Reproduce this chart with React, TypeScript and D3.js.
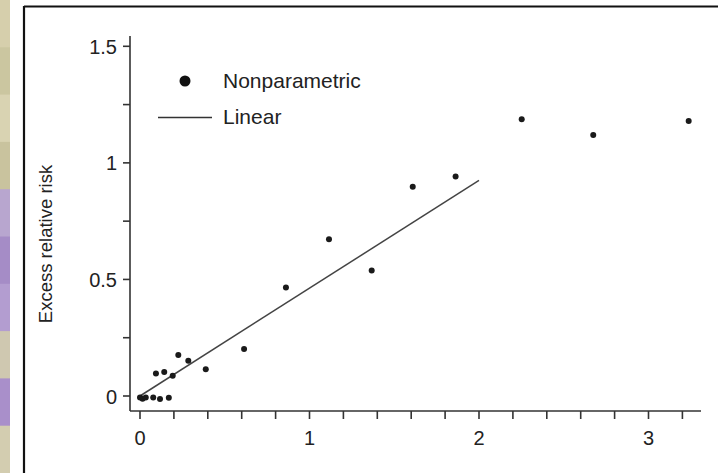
import React from "react";
import * as d3 from "d3";

// Nonparametric estimates (dose in Sv, excess relative risk)
const npDose = [0.0, 0.015, 0.034, 0.078, 0.118, 0.17, 0.094, 0.143, 0.193, 0.226, 0.285, 0.388, 0.614, 0.861, 1.115, 1.367, 1.609, 1.862, 2.252, 2.674, 3.237];
const npErr = [-0.006, -0.012, -0.006, -0.006, -0.013, -0.007, 0.097, 0.103, 0.087, 0.176, 0.151, 0.115, 0.202, 0.465, 0.672, 0.538, 0.898, 0.941, 1.187, 1.12, 1.18];

// Linear fit
const linDose = [0, 2];
const linErr = [0, 0.925];

const xTickValues = [0, 0.2, 0.4, 0.6, 0.8, 1, 1.2, 1.4, 1.6, 1.8, 2, 2.2, 2.4, 2.6, 2.8, 3, 3.2];
const xTickLabels = ["0", "1", "2", "3"];
const yTickValues = [0, 0.25, 0.5, 0.75, 1, 1.25, 1.5];
const yTickLabels = ["0", "0.5", "1", "1.5"];

const yTitle = "Excess relative risk";
const legendLabels = ["Nonparametric", "Linear"];

// decorative textured strip on the left edge
const stripColors = ["#d6cfac", "#cbc6a0", "#d9d3b2", "#c9c39e", "#b8a6cf", "#a58cc6", "#b39dd0", "#cfc8b0", "#a98fca", "#d3cdb0"];

const FONT = "'Liberation Sans', Arial, Helvetica, sans-serif";
const INK = "#222";

export default function App() {
  const W = 718, H = 473;
  const x = d3.scaleLinear().domain([0, 3]).range([140, 648.5]);
  const y = d3.scaleLinear().domain([0, 1.5]).range([396, 46.3]);

  const axisY = 411;
  const axisX = 130;

  const line = d3
    .line<number>()
    .x((_, i) => x(linDose[i]))
    .y((_, i) => y(linErr[i]));

  const stripH = H / stripColors.length;

  return (
    <svg
      width={W}
      height={H}
      style={{ position: "absolute", left: 0, top: 0, background: "#fff" }}
      fontFamily={FONT}
    >
      <rect x={0} y={0} width={W} height={H} fill="#fff" />
      {stripColors.map((c, i) => (
        <rect key={i} x={0} y={i * stripH} width={10} height={stripH + 1} fill={c} />
      ))}
      {/* frame */}
      <line x1={24} y1={6.5} x2={W} y2={6.5} stroke="#111" strokeWidth={2.2} />
      <line x1={24} y1={6} x2={24} y2={H} stroke="#111" strokeWidth={2.2} />

      {/* axes */}
      <line x1={axisX} y1={36} x2={axisX} y2={axisY} stroke="#333" strokeWidth={1.6} />
      <line x1={axisX} y1={axisY} x2={701} y2={axisY} stroke="#333" strokeWidth={1.6} />

      {xTickValues.map((v, i) => (
        <line key={"xt" + i} x1={x(v)} x2={x(v)} y1={axisY} y2={axisY + 8} stroke="#333" strokeWidth={1.6} />
      ))}
      {xTickLabels.map((t) => (
        <text key={"xl" + t} x={x(+t)} y={445} textAnchor="middle" fontSize={20} fill={INK}>
          {t}
        </text>
      ))}

      {yTickValues.map((v, i) => (
        <line key={"yt" + i} x1={axisX - 7} x2={axisX} y1={y(v)} y2={y(v)} stroke="#333" strokeWidth={1.6} />
      ))}
      {yTickLabels.map((t) => (
        <text key={"yl" + t} x={117} y={y(+t) + 7.5} textAnchor="end" fontSize={20} fill={INK}>
          {t}
        </text>
      ))}

      <text
        transform={`translate(52, 244) rotate(-90)`}
        textAnchor="middle"
        fontSize={18.5}
        fill={INK}
      >
        {yTitle}
      </text>

      {/* linear fit */}
      <path d={line(linDose) || ""} fill="none" stroke="#444" strokeWidth={1.5} />

      {/* nonparametric points */}
      {npDose.map((d, i) => (
        <circle key={"p" + i} cx={x(d)} cy={y(npErr[i])} r={3} fill="#1a1a1a" />
      ))}

      {/* legend */}
      <circle cx={185} cy={81} r={5.5} fill="#111" />
      <text x={223} y={88} fontSize={21} fill={INK}>
        {legendLabels[0]}
      </text>
      <line x1={158} x2={212} y1={117.5} y2={117.5} stroke="#333" strokeWidth={1.6} />
      <text x={223} y={124} fontSize={21} fill={INK}>
        {legendLabels[1]}
      </text>
    </svg>
  );
}
